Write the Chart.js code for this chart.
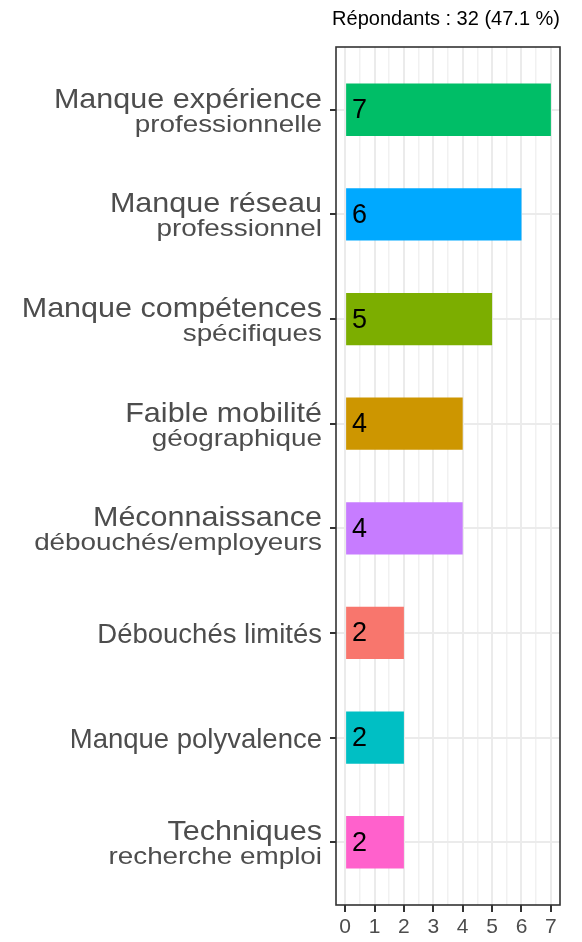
<!DOCTYPE html>
<html><head><meta charset="utf-8">
<script src="https://cdn.jsdelivr.net/npm/chart.js@4.4.1/dist/chart.umd.min.js"></script>
<style>html,body{margin:0;padding:0;background:#fff}#wrap{width:582px;height:942px;position:relative}</style>
</head><body><div id="wrap"><canvas id="c"></canvas></div>
<script>
const labelLine1 = ['Manque expérience','Manque réseau','Manque compétences','Faible mobilité','Méconnaissance','Débouchés limités','Manque polyvalence','Techniques'];
const labelLine2 = ['professionnelle','professionnel','spécifiques','géographique','débouchés/employeurs','','','recherche emploi'];
const values = [7,6,5,4,4,2,2,2];
const barColors = ['#00BE67','#00A9FF','#7CAE00','#CD9600','#C77CFF','#F8766D','#00BFC4','#FF61CC'];
const xTickLabels = ['0','1','2','3','4','5','6','7'];
const titleText = 'Répondants : 32 (47.1 %)';

const FONT = "'Liberation Sans', Arial, Helvetica, sans-serif";

const yLabelsPlugin = {
  id: 'yLabels',
  afterDraw(chart) {
    const ctx = chart.ctx, ys = chart.scales.y;
    const xr = 322;
    ctx.save();
    ctx.fillStyle = '#4d4d4d';
    ctx.textAlign = 'right';
    ctx.textBaseline = 'alphabetic';
    function drawScaled(text, y, size, sx) {
      ctx.save();
      ctx.translate(xr, y);
      ctx.scale(sx, 1);
      ctx.font = size + 'px ' + FONT;
      ctx.fillText(text, 0, 0);
      ctx.restore();
    }
    labelLine1.forEach((l1, i) => {
      const y = ys.getPixelForValue(i);
      const l2 = labelLine2[i];
      if (l2) {
        drawScaled(l1, y - 2, 28, 1.09);
        drawScaled(l2, y + 22, 24, 1.16);
      } else {
        drawScaled(l1, y + 10, 27.5, 1.0);
      }
    });
    ctx.restore();
  }
};

const valueLabelsPlugin = {
  id: 'valueLabels',
  afterDatasetsDraw(chart) {
    const ctx = chart.ctx;
    const meta = chart.getDatasetMeta(0);
    ctx.save();
    ctx.fillStyle = '#000';
    ctx.font = '27px ' + FONT;
    ctx.textAlign = 'left';
    ctx.textBaseline = 'middle';
    meta.data.forEach((bar, i) => {
      ctx.fillText(String(values[i]), bar.base + 6, bar.y + 1);
    });
    ctx.restore();
  }
};

const panelBorderPlugin = {
  id: 'panelBorder',
  afterDraw(chart) {
    const {ctx, chartArea: a} = chart;
    ctx.save();
    ctx.strokeStyle = '#333333';
    ctx.lineWidth = 1.6;
    ctx.strokeRect(a.left, a.top, a.right - a.left, a.bottom - a.top);
    ctx.restore();
  }
};

const isInt = v => Math.abs(v - Math.round(v)) < 1e-9;

new Chart(document.getElementById('c'), {
  type: 'bar',
  data: {
    datasets: [{
      data: values.map((v, i) => ({x: v, y: i})),
      backgroundColor: barColors,
      borderWidth: 0,
      categoryPercentage: 1,
      barPercentage: 0.5
    }]
  },
  options: {
    indexAxis: 'y',
    responsive: true,
    maintainAspectRatio: false,
    animation: false,
    layout: {padding: {left: 0, right: 22, top: 0, bottom: 0}},
    plugins: {
      legend: {display: false},
      tooltip: {enabled: false},
      title: {
        display: true,
        text: titleText,
        align: 'end',
        color: '#000',
        font: {size: 20, family: FONT, weight: 'normal'},
        padding: {top: 7, bottom: 16}
      }
    },
    scales: {
      x: {
        type: 'linear',
        min: -0.31,
        max: 7.31,
        border: {display: false},
        afterBuildTicks(scale) {
          const t = [];
          for (let k = 0; k < xTickLabels.length * 2 - 1; k++) t.push({value: k / 2});
          scale.ticks = t;
        },
        afterFit(scale) { scale.height = 37; },
        grid: {
          color: c => isInt(c.tick.value) ? '#ebebeb' : '#f1f1f1',
          lineWidth: c => isInt(c.tick.value) ? 2 : 1.5,
          tickColor: c => isInt(c.tick.value) ? '#333333' : 'rgba(0,0,0,0)',
          tickWidth: 2,
          tickLength: 7,
          drawTicks: true
        },
        ticks: {
          autoSkip: false,
          maxRotation: 0,
          padding: 3,
          color: '#4d4d4d',
          font: {size: 21, family: FONT},
          callback: (v) => isInt(v) ? xTickLabels[Math.round(v)] : ''
        }
      },
      y: {
        type: 'linear',
        min: -0.6,
        max: 7.6,
        reverse: true,
        offset: false,
        border: {display: false},
        afterBuildTicks(scale) {
          scale.ticks = labelLine1.map((_, i) => ({value: i}));
        },
        afterFit(scale) { scale.width = 336; },
        grid: {
          offset: false,
          color: '#ebebeb',
          lineWidth: 2,
          tickColor: '#333333',
          tickLength: 6,
          drawTicks: true
        },
        ticks: {display: false}
      }
    }
  },
  plugins: [valueLabelsPlugin, yLabelsPlugin, panelBorderPlugin]
});
</script>
</body></html>
